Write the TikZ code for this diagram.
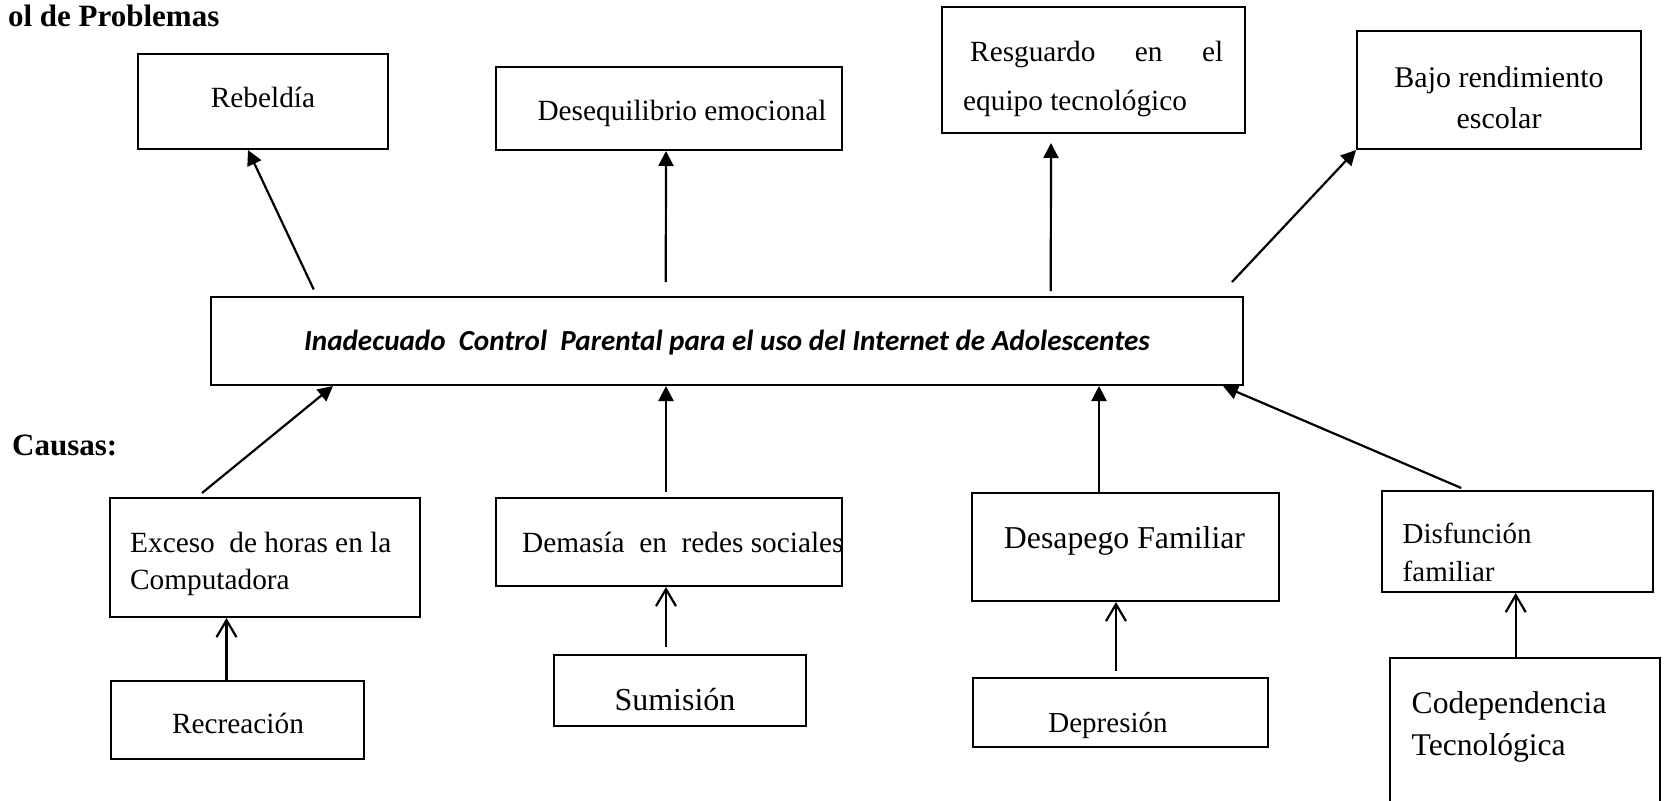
\documentclass[tikz,border=0pt]{standalone}
\usepackage{fontspec}
\setmainfont{Liberation Serif}
\newfontfamily\calibrifont{Carlito}
\usetikzlibrary{arrows.meta,fit}
\newcommand{\fsz}[1]{\fontsize{#1}{#1}\selectfont}
\begin{document}
\begin{tikzpicture}[x=1pt,y=-1pt,
  box/.style={draw, line width=2pt, inner sep=0pt},
  txt/.style={anchor=base, inner sep=0pt, font=\fsz{29.3}},
  txtl/.style={txt, anchor=base west},
  fx/.style={line width=2.2pt, -{Triangle[length=15pt,width=15pt]}},
  ox/.style={line width=2.2pt, -{Straight Barb[length=17pt,width=20pt]}}]
\useasboundingbox (0,0) rectangle (1669,800);
\clip (0,0) rectangle (1669,800);

% boxes
\node[box, fit={(138,54) (388,149)}] (reb) {};
\node[box, fit={(496,67) (842,150)}] (des) {};
\node[box, fit={(942,7) (1245,133)}] (res) {};
\node[box, fit={(1357,31) (1641,149)}] (baj) {};
\node[box, fit={(210.5,296.5) (1243,385)}] (inad) {};
\node[box, fit={(110,498) (420,617)}] (exc) {};
\node[box, fit={(496,498) (842,586)}] (dem) {};
\node[box, fit={(972,493) (1279,601)}] (desa) {};
\node[box, fit={(1382,491) (1652.5,592)}] (dis) {};
\node[box, fit={(111,681) (364,759)}] (rec) {};
\node[box, fit={(554,655) (806,726)}] (sum) {};
\node[box, fit={(973,678) (1268,747)}] (dep) {};
\node[box, fit={(1390,658) (1660,830)}] (cod) {};

% texts
\node[anchor=base east, inner sep=0pt, font=\bfseries\fsz{31}] (tit) at (219.5,27) {ol de Problemas};
\node[anchor=base west, inner sep=0pt, font=\bfseries\fsz{31}] (cau) at (12,455) {Causas:};
\node[txt] (rebt) at (263,107) {Rebeldía};
\node[txt] (dest) at (682,120) {Desequilibrio emocional};
\node[txtl] (rest1) at (970,62) {\makebox[253pt][s]{Resguardo\hfill en\hfill el}};
\node[txtl] (rest2) at (963,110) {equipo tecnológico};
\node[txt, font=\fsz{30}] (bajt1) at (1499,87) {Bajo rendimiento};
\node[txt, font=\fsz{30}] (bajt2) at (1499,128) {escolar};
\node[anchor=base, inner sep=0pt, font={\calibrifont\bfseries\itshape\fsz{29.1}}] (inadt) at (727,350) {Inadecuado\ \ Control\ \ Parental para el uso del Internet de Adolescentes};
\node[txtl] (exct1) at (130,552) {Exceso\ \ de horas en la};
\node[txtl] (exct2) at (130,589) {Computadora};
\node[txtl] (demt) at (522,552) {Demasía\ \ en\ \ redes sociales};
\node[txt, font=\fsz{31.8}] (desat) at (1124.5,548) {Desapego Familiar};
\node[txtl, font=\fsz{29}] (dist1) at (1402.5,543) {Disfunción};
\node[txtl, font=\fsz{29}] (dist2) at (1402.5,581) {familiar};
\node[txt] (rect) at (238,733) {Recreación};
\node[txt, font=\fsz{32}] (sumt) at (675,710) {Sumisión};
\node[txt, font=\fsz{29}] (dept) at (1108,732) {Depresión};
\node[txtl, font=\fsz{31.6}] (codt1) at (1411.5,713) {Codependencia};
\node[txtl, font=\fsz{31.6}] (codt2) at (1411.5,755) {Tecnológica};

% effects
\draw[fx] ([xshift=-413pt,yshift=6pt]inad.north) -- ([xshift=-15pt]reb.south);
\draw[fx] ([xshift=-61pt,yshift=13.5pt]inad.north) -- ([xshift=-3pt]des.south);
\draw[fx, shorten >=9pt] ([xshift=324pt,yshift=4.5pt]inad.north) -- ([xshift=-42.5pt]res.south);
\draw[fx] ([xshift=-12pt,yshift=13.5pt]inad.north east) -- (baj.south west);

% causes
\draw[fx] ([xshift=-63pt,yshift=4pt]exc.north) -- ([xshift=-393.75pt]inad.south);
\draw[fx] ([xshift=-3pt,yshift=5pt]dem.north) -- ([xshift=-60.75pt]inad.south);
\draw[fx] ([xshift=-26.5pt]desa.north) -- ([xshift=372.25pt]inad.south);
\draw[fx] ([xshift=-56pt,yshift=2pt]dis.north) -- ([xshift=-21pt]inad.south east);

% root causes
\coordinate (r1) at ([xshift=-11pt]rec.north);
\draw[ox] (r1) -- (r1 |- exc.south);
\coordinate (s1) at ([xshift=-14pt,yshift=7pt]sum.north);
\draw[ox] (s1) -- (s1 |- dem.south);
\coordinate (d1) at ([xshift=-4.5pt,yshift=6pt]dep.north);
\draw[ox] (d1) -- (d1 |- desa.south);
\coordinate (c1) at ([xshift=-9.3pt]cod.north);
\draw[ox] (c1) -- (c1 |- dis.south);
\end{tikzpicture}
\end{document}
